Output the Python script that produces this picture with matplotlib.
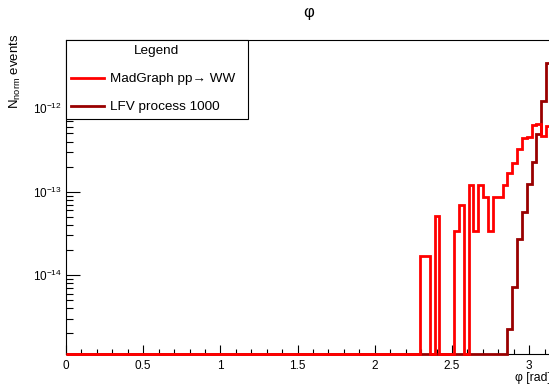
import numpy as np
import matplotlib
matplotlib.use("Agg")
import matplotlib.pyplot as plt
from matplotlib.ticker import MultipleLocator, FuncFormatter, LogLocator, NullFormatter

plt.rcParams['font.family'] = ['Liberation Sans', 'DejaVu Sans']
plt.rcParams['mathtext.fontset'] = 'custom'
plt.rcParams['mathtext.rm'] = 'Liberation Sans'
plt.rcParams['mathtext.it'] = 'Liberation Sans:italic'
plt.rcParams['mathtext.default'] = 'regular'

# histogram: 100 bins from 0 to pi, only non-empty tail listed
n_bins = 100
x_min, x_max = 0.0, np.pi

# MadGraph pp -> WW, bins 73..99
mg_first_bin = 73
mg_vals = [1.69e-14, 1.69e-14, 0, 5.11e-14, 0, 0, 0, 3.40e-14, 6.87e-14, 0,
           1.19e-13, 3.40e-14, 1.19e-13, 8.71e-14, 3.40e-14, 8.71e-14, 8.71e-14,
           1.19e-13, 1.69e-13, 2.23e-13, 3.23e-13, 4.41e-13, 4.57e-13, 6.27e-13,
           6.50e-13, 4.67e-13, 6.15e-13]

# LFV process 1000, bins 91..99
lfv_first_bin = 91
lfv_vals = [2.23e-15, 7.24e-15, 2.74e-14, 5.75e-14, 1.23e-13, 2.29e-13,
            4.93e-13, 1.24e-12, 3.54e-12]

y_low, y_high = 10**-14.948, 10**-11.179

edges = np.linspace(x_min, x_max, n_bins + 1)


def fill(first, vals):
    h = np.zeros(n_bins)
    h[first:first + len(vals)] = vals
    # empty bins sit on the bottom of the frame like in ROOT
    return np.where(h > 0, h, y_low)


mg = fill(mg_first_bin, mg_vals)
lfv = fill(lfv_first_bin, lfv_vals)

fig = plt.figure(figsize=(5.49, 3.87), dpi=100)
ax = fig.add_axes([66 / 549, 1 - 354 / 387, 485 / 549, 314 / 387])
ax.set_yscale('log')

ax.stairs(lfv, edges, baseline=None, color='#990000', lw=2.0,
          label='LFV process 1000', zorder=3, clip_on=False)
ax.stairs(mg, edges, baseline=None, color='#ff0000', lw=2.0,
          label='MadGraph pp\u2192 WW', zorder=4, clip_on=False)

ax.set_xlim(x_min, x_max)
ax.set_ylim(y_low, y_high)

ax.xaxis.set_major_locator(MultipleLocator(0.5))
ax.xaxis.set_minor_locator(MultipleLocator(0.1))
ax.xaxis.set_major_formatter(FuncFormatter(lambda v, p: '%g' % v))
ax.yaxis.set_major_locator(LogLocator(base=10, numticks=20))
ax.yaxis.set_minor_locator(LogLocator(base=10, subs=np.arange(2, 10), numticks=20))
ax.yaxis.set_minor_formatter(NullFormatter())

ax.tick_params(axis='both', which='both', direction='in', top=False, right=False,
               labelsize=8.5, width=0.8, color='black')
ax.tick_params(axis='x', which='major', length=6.8, pad=4)
ax.tick_params(axis='x', which='minor', length=3.4)
ax.tick_params(axis='y', which='major', length=10.4, pad=3)
ax.tick_params(axis='y', which='minor', length=5.2)
for s in ax.spines.values():
    s.set_linewidth(0.8)

ax.set_xlabel('\u03c6 [rad]', loc='right', fontsize=8.8, labelpad=0.5)
ax.set_ylabel('$N_{norm}$ events', loc='top', fontsize=9.5)
ax.yaxis.set_label_coords(-0.0887, 1.02)
fig.text(308.5 / 549, 1 - 12.5 / 387, '\u03c6', ha='center', va='center', fontsize=12)

handles, labels = ax.get_legend_handles_labels()
leg = ax.legend(handles[::-1], labels[::-1], title='Legend', loc='upper left',
                bbox_to_anchor=(0, 0, 182 / 485, 1), mode='expand', borderaxespad=0,
                fontsize=9.7, title_fontsize=9.7, fancybox=False, framealpha=1,
                edgecolor='black', handlelength=2.4, handletextpad=0.5,
                labelspacing=1.15, borderpad=0.4)
leg.get_frame().set_linewidth(0.8)
leg.set_zorder(10)

fig.savefig('out.png', dpi=100)
